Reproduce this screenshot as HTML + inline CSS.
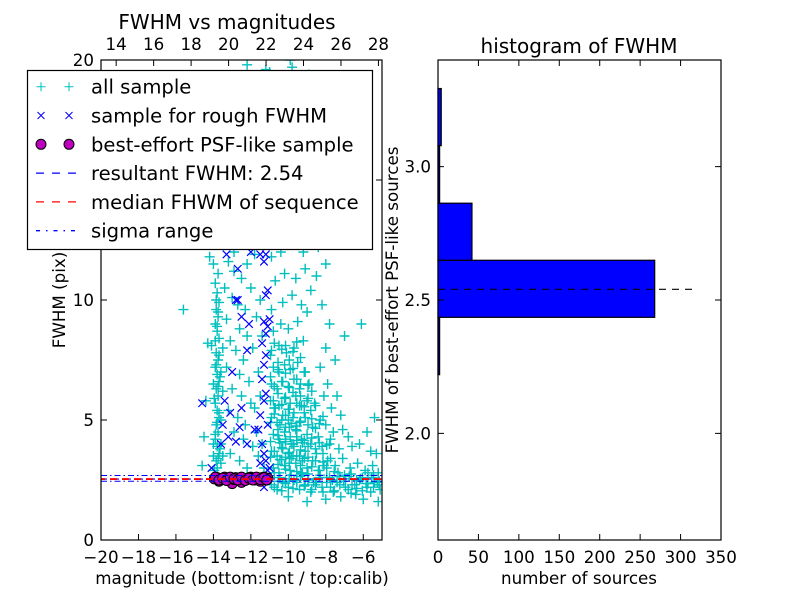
<!DOCTYPE html>
<html><head><meta charset="utf-8"><style>
html,body{margin:0;padding:0;background:#fff;}
svg{display:block;font-family:"DejaVu Sans","Liberation Sans",sans-serif;}
</style></head><body>
<svg id="chart" width="800" height="600" viewBox="0 0 800 600" xmlns="http://www.w3.org/2000/svg"></svg>
<script>
// ---------- data ----------
const magAll = [-13.9,-13.8,-13.85,-13.7,-13.8,-13.9,-13.75,-13.85,-13.7,-13.8,-13.9,-13.75,-13.85,-13.7,-13.8,-13.9,-13.75,-13.85,-14.1,-14.3,-13.7,-13.8,-13.9,-13.75,-13.85,-13.7,-13.8,-13.9,-13.75,-14.0,-14.2,-13.6,-13.6,-13.5,-13.6,-13.5,-13.6,-13.5,-14.0,-14.0,-14.0,
-13.2,-12.9,-12.5,-13.0,-12.7,-12.3,-13.3,-12.6,-12.2,-13.1,-12.8,-12.4,-13.3,-12.6,-12.1,-13.0,-12.5,-12.0,-13.2,-12.7,-12.3,-12.9,-12.4,-11.9,-13.1,-12.6,-12.2,-11.8,-12.0,-11.7,-11.9,-11.6,-11.8,-11.7,-11.6,-13.4,-12.9,-12.2,-11.5,-11.4,-11.5,-11.4,-11.3,-11.4,
-10.9,-10.6,-10.3,-10.0,-9.7,-9.4,-9.1,-8.8,-8.5,-8.2,
-10.8,-10.5,-10.2,-9.9,-9.6,-9.3,-9.0,-8.7,-8.4,-8.1,
-10.9,-10.6,-10.3,-10.0,-9.7,-9.4,-9.1,-8.8,-8.5,-8.2,
-10.8,-10.5,-10.2,-9.9,-9.6,-9.3,-9.0,-8.7,-8.4,
-10.9,-10.6,-10.3,-10.0,-9.7,-9.4,-9.1,-8.8,-8.3,
-10.8,-10.5,-10.2,-9.9,-9.6,-9.3,-9.0,
-10.9,-10.6,-10.3,-10.0,-9.7,-9.4,-8.9,
-10.8,-10.5,-10.2,-9.9,-9.5,-9.1,
-10.9,-10.5,-10.1,-9.7,-9.2,
-10.8,-10.4,-10.0,-9.5,-9.0,
-10.9,-10.3,-9.8,-9.3,-8.8,
-10.7,-10.2,-9.6,-9.1,-8.5,
-10.9,-10.4,-9.8,-9.2,-8.4,-8.0,-8.2,-7.8,-8.0,-7.5,-8.3,-7.9,-7.4,-8.1,-7.7,-7.2,-8.0,-7.6,-7.1,-6.8,-7.8,-7.3,-6.6,-6.2,-5.8,-5.4,-6.1,-7.0,
-7.9,-7.5,-7.1,-6.7,-6.3,-5.9,-5.5,-5.2,-7.8,-7.4,-7.0,-6.6,-6.2,-5.8,-5.4,-5.1,-7.6,-7.2,-6.8,-6.4,-6.0,-5.6,-5.2,-8.0,-9.0,-10.0,-5.3,-5.6,
-11.0,-10.6,-10.2,-9.8,-9.4,-8.9,-8.6,-9.9,-10.8,-9.3,-8.7,-10.4,-9.6,-8.9,-10.1,-9.2,-10.7,-11.2,-12.2,
-15.6,-14.4,-14.5,-14.6,
-10.45,-10.15,-9.85,-9.55,-9.25,-8.95,-8.65,-10.45,-10.15,-9.85,-9.55,-9.25,-8.95,-10.45,-10.15,-9.85,-9.55,-9.25,-10.45,-10.15,-9.85,-9.55,-10.7,-10.0,-9.4,-8.6,-8.3,-7.95,-7.65,-7.35,-7.05,-6.75,-6.45,-6.15,-5.85,-5.55,-5.25];
const fwhmAll = [2.7,3.0,3.3,3.6,3.9,4.2,4.5,4.8,5.1,5.4,5.7,6.0,6.3,6.6,6.9,7.2,7.5,7.8,8.1,8.2,8.4,8.7,9.0,9.3,9.6,9.9,10.3,10.7,11.1,11.5,11.8,3.2,4.0,3.5,5.0,6.2,7.0,8.0,4.0,6.5,3.5,
11.6,11.2,10.9,10.1,9.8,9.6,9.2,8.8,8.5,8.3,7.9,7.5,7.2,6.9,6.6,6.3,6.0,5.7,5.4,5.1,4.8,4.5,4.2,3.9,3.6,3.3,3.0,11.9,10.5,9.3,8.0,7.0,5.5,4.5,3.5,10.5,12.0,11.5,10.0,8.5,6.0,4.0,3.0,12.3,
2.3,2.1,2.4,2.2,2.5,2.1,2.3,2.0,2.4,2.2,
3.0,2.8,3.1,2.9,3.2,2.8,3.0,3.3,2.9,3.1,
3.7,3.5,3.8,3.6,3.9,3.5,3.7,4.0,3.6,3.9,
4.4,4.2,4.5,4.3,4.6,4.2,4.4,4.7,4.3,
5.1,4.9,5.2,5.0,5.3,4.9,5.1,5.4,5.0,
5.8,5.6,5.9,5.7,6.0,5.6,5.8,
6.5,6.3,6.6,6.4,6.7,6.3,6.5,
7.2,7.0,7.3,7.1,7.4,7.0,
7.9,8.1,7.8,8.0,8.3,
8.7,9.0,8.8,9.1,9.5,
9.6,9.9,10.2,9.8,10.4,
10.8,11.1,10.9,11.3,11.0,
11.8,12.0,12.3,12.0,12.2,11.5,9.8,9.0,8.0,7.5,7.2,6.5,6.0,6.0,5.5,5.2,4.8,4.5,4.6,4.3,4.0,3.8,3.9,4.0,4.5,5.1,9.0,8.5,
3.3,3.1,3.4,3.0,3.2,2.9,3.1,2.8,2.6,2.4,2.7,2.3,2.5,2.2,2.4,2.1,2.0,1.8,2.1,1.9,1.7,2.0,1.6,1.7,1.6,1.8,3.6,3.7,
19.5,19.3,19.1,19.7,18.9,19.4,19.0,20.0,17.5,17.8,16.9,16.5,15.2,14.7,14.0,13.4,13.0,19.6,19.8,
9.6,5.8,4.3,3.1,
2.6,2.45,2.7,2.5,2.75,2.55,2.4,3.35,3.45,3.4,3.5,3.3,3.45,4.05,4.1,4.0,4.15,4.05,4.8,4.7,4.85,4.75,5.5,5.45,5.6,5.7,2.7,2.6,2.5,2.8,2.45,2.65,2.3,2.55,2.35,2.6,2.4];
// extra dense-region samples (blob, tail, bright strip)
const magAllDense = [
-10.95,-10.75,-10.55,-10.35,-10.15,-9.95,-9.75,-9.55,-9.35,-9.15,-8.95,-8.75,-8.55,-8.35,-8.15,-7.95,-7.75,
-10.95,-10.75,-10.55,-10.35,-10.15,-9.95,-9.75,-9.55,-9.35,-9.15,-8.95,-8.75,-8.55,-8.35,-8.15,-7.95,-7.75,
-10.95,-10.75,-10.55,-10.35,-10.15,-9.95,-9.75,-9.55,-9.35,-9.15,-8.95,-8.75,-8.55,-8.35,-8.15,-7.95,-7.75,
-10.95,-10.75,-10.55,-10.35,-10.15,-9.95,-9.75,-9.55,-9.35,-9.15,-8.95,-8.75,-8.55,-8.35,-8.15,
-10.95,-10.75,-10.55,-10.35,-10.15,-9.95,-9.75,-9.55,-9.35,-9.15,-8.95,-8.75,-8.55,
-10.95,-10.75,-10.55,-10.35,-10.15,-9.95,-9.75,-9.55,-9.35,-9.15,-8.95,
-10.95,-10.75,-10.55,-10.35,-10.15,-9.95,-9.75,-9.55,-9.35,
-7.55,-7.25,-6.95,-6.65,-6.35,-6.05,-5.75,-5.45,-5.15,
-7.55,-7.25,-6.95,-6.65,-6.35,-6.05,-5.75,-5.45,-5.15,
-13.95,-13.75,-13.65,-13.9,-13.8,-13.7,-13.95,-13.75,-13.65,-13.85,-13.7,-13.9,-13.8,-13.75,-13.85];
const fwhmAllDense = [
2.6,2.2,2.45,2.05,2.35,2.55,2.15,2.4,2.65,2.25,2.5,2.1,2.3,2.6,2.0,2.4,2.2,
3.45,2.8,3.15,3.35,2.95,3.2,3.5,2.85,3.1,3.4,2.75,3.05,3.3,2.9,3.25,3.0,3.4,
4.1,3.7,4.35,3.85,4.2,3.65,4.0,4.3,3.75,4.15,3.9,4.25,3.8,4.05,3.6,3.95,4.2,
4.9,5.25,4.6,5.0,5.2,4.7,5.1,4.55,4.95,5.3,4.8,5.05,4.65,4.85,5.15,
5.8,5.5,6.1,5.65,5.95,5.45,6.15,5.7,6.0,5.55,5.9,6.2,5.6,
6.8,6.4,7.1,6.6,6.95,6.35,7.15,6.7,6.5,7.0,6.45,
7.7,8.2,7.4,7.95,8.1,7.5,7.85,8.25,7.6,
2.85,2.3,2.55,2.75,2.15,2.6,2.35,2.7,2.45,
2.05,2.65,2.2,1.95,2.5,2.05,2.8,2.2,2.3,
2.9,3.4,3.8,4.4,4.9,5.3,5.9,6.4,6.8,7.3,7.7,8.3,8.9,9.5,10.0];
const magRough = [-11.3,-11.1,-11.2,-11.0,-11.3,-11.4,-11.6,-11.1,-11.5,-11.3,-11.2,-11.4,-11.3,-11.2,-11.4,-11.2,-11.1,-11.3,-11.0,-11.2,-11.1,-11.3,-11.5,-11.2,
-13.3,-12.8,-12.7,-12.5,-12.1,-12.2,-13.0,-12.5,-13.2,-12.8,-13.6,-14.1,-14.6,-13.5,-13.1,-12.6,-12.2,-12.7,-13.4,-11.8,-11.5,-12.0];
const fwhmRough = [2.2,2.9,3.3,3.0,3.6,4.0,4.6,4.8,5.2,5.8,6.1,6.7,7.3,7.7,8.2,8.6,8.9,9.1,9.2,10.2,10.4,11.6,11.9,11.9,
11.9,10.0,10.0,9.3,9.0,7.9,7.0,5.5,4.3,4.1,4.0,3.0,5.7,4.8,5.3,4.7,4.0,11.3,5.8,4.6,3.2,12.0];
const magPsf = [-13.95,-13.8,-13.6,-13.4,-13.2,-13.0,-12.8,-12.6,-12.4,-12.2,-12.0,-11.8,-11.6,-11.4,-11.2,-11.1,-13.7,-13.1,-12.5,-11.9,-11.3,-13.3,-12.1,-12.9,-11.5,
-13.9,-13.7,-13.5,-13.3,-13.1,-12.9,-12.7,-12.5,-12.3,-12.1,-11.9,-11.7,-11.5,-11.3,-11.15];
const fwhmPsf = [2.55,2.6,2.5,2.62,2.55,2.35,2.6,2.5,2.58,2.52,2.62,2.5,2.55,2.6,2.5,2.58,2.45,2.6,2.4,2.55,2.62,2.5,2.6,2.52,2.45,
2.62,2.5,2.58,2.48,2.62,2.55,2.5,2.62,2.48,2.58,2.5,2.62,2.52,2.6,2.5];
const resultFwhm = 2.54;
const medianFwhm = 2.54;
const sigmaRange = [2.45, 2.69];
const histEdges = [2.220, 2.435, 2.649, 2.863, 3.079, 3.293];
const histCounts = [2, 268, 42, 2, 4];
const leftXTicks = [-20,-18,-16,-14,-12,-10,-8,-6];
const leftYTicks = [0,5,10,15,20];
const topTicks = [14,16,18,20,22,24,26,28];
const calibOffset = 33.19;
const rightXTicks = [0,50,100,150,200,250,300,350];
const rightYTicks = [2.0,2.5,3.0];

// ---------- geometry ----------
const NS = "http://www.w3.org/2000/svg";
const svg = document.getElementById('chart');
const L = {x0:101, x1:382, y0:60, y1:540, xmin:-20, xmax:-5, ymin:0, ymax:20};
const R = {x0:438, x1:721, y0:60, y1:540, xmin:0, xmax:350, ymin:1.6, ymax:3.4};
const lx = v => L.x0 + (v - L.xmin) / (L.xmax - L.xmin) * (L.x1 - L.x0);
const ly = v => L.y1 - (v - L.ymin) / (L.ymax - L.ymin) * (L.y1 - L.y0);
const rx = v => R.x0 + (v - R.xmin) / (R.xmax - R.xmin) * (R.x1 - R.x0);
const ry = v => R.y1 - (v - R.ymin) / (R.ymax - R.ymin) * (R.y1 - R.y0);
function mk(tag, attrs, parent){ const e=document.createElementNS(NS,tag); for(const k in attrs) e.setAttribute(k, attrs[k]); (parent||svg).appendChild(e); return e; }
function txt(s, x, y, anchor, size, parent, extra){ const t=mk('text', Object.assign({x:x,y:y,'text-anchor':anchor||'middle','font-size':size||16.7,fill:'#000'}, extra||{}), parent); t.textContent=s; return t; }

const defs = mk('defs',{});
const cp = mk('clipPath',{id:'clipL'},defs);
mk('rect',{x:L.x0,y:L.y0,width:L.x1-L.x0,height:L.y1-L.y0},cp);

// ---------- left scatter ----------
const gL = mk('g',{'clip-path':'url(#clipL)'});


const gAll = mk('g',{stroke:'#00bfbf','stroke-width':1.4,fill:'none'},gL);


const allM = magAll.concat(magAllDense), allF = fwhmAll.concat(fwhmAllDense);
for(let i=0;i<allM.length;i++){
  const x=lx(allM[i]), y=ly(allF[i]);
  const p=mk('path',{d:`M${x-5},${y}h10M${x},${y-5}v10`},gAll);
  
  
}
const gRough = mk('g',{stroke:'#0000ff','stroke-width':1.2,fill:'none'},gL);


for(let i=0;i<magRough.length;i++){
  const x=lx(magRough[i]), y=ly(fwhmRough[i]);
  const p=mk('path',{d:`M${x-3.8},${y-3.8}l7.6,7.6M${x-3.8},${y+3.8}l7.6,-7.6`},gRough);
  
  
}
const gPsf = mk('g',{stroke:'#000','stroke-width':1,fill:'#bf00bf'},gL);


for(let i=0;i<magPsf.length;i++){
  const c=mk('circle',{cx:lx(magPsf[i]),cy:ly(fwhmPsf[i]),r:5},gPsf);
  
  
}
let ln=mk('line',{x1:L.x0,x2:L.x1,y1:ly(resultFwhm),y2:ly(resultFwhm),stroke:'#0000ff','stroke-width':1.2,'stroke-dasharray':'6,6'},gL);
 
ln=mk('line',{x1:L.x0,x2:L.x1,y1:ly(medianFwhm),y2:ly(medianFwhm),stroke:'#ff0000','stroke-width':1.8,'stroke-dasharray':'7,5','stroke-dashoffset':3},gL);
 
sigmaRange.forEach(v=>{
  const s=mk('line',{x1:L.x0,x2:L.x1,y1:ly(v),y2:ly(v),stroke:'#0000ff','stroke-width':1,'stroke-dasharray':'6,3,1.5,3'},gL);
  
  
});

// left axes frame & ticks
let fr=mk('rect',{x:L.x0,y:L.y0,width:L.x1-L.x0,height:L.y1-L.y0,fill:'none',stroke:'#000','stroke-width':1.2});
 
leftXTicks.forEach(v=>{
  const x=lx(v);
  mk('path',{d:`M${x},${L.y1}v-6`,stroke:'#000'});
  const t=txt(v<0?'\u2212'+Math.abs(v):String(v), x, 563);
   
});
leftYTicks.forEach(v=>{
  const y=ly(v);
  mk('path',{d:`M${L.x0},${y}h6M${L.x1},${y}h-6`,stroke:'#000'});
  const t=txt(String(v), 94, y+6, 'end');
   
});
topTicks.forEach(v=>{
  const x=lx(v-calibOffset);
  mk('path',{d:`M${x},${L.y0}v6`,stroke:'#000'});
  const t=txt(String(v), x, 50);
   
});
let t=txt('FWHM vs magnitudes', 227, 29, 'middle', 20);
 
t=txt('magnitude (bottom:isnt / top:calib)', 242, 584);
 
t=txt('FWHM (pix)', 0, 0, 'middle', 16.7, null, {transform:'translate(65,300) rotate(-90)'});
 

// legend
const lg = mk('g',{});
 
mk('rect',{x:27.5,y:70.5,width:345,height:179,fill:'#fff',stroke:'#000','stroke-width':1.2},lg);
const legLabels=['all sample','sample for rough FWHM','best-effort PSF-like sample','resultant FWHM: 2.54','median FHWM of sequence','sigma range'];
legLabels.forEach((s,i)=>{
  const y=86.7+i*28.8;
  const e=mk('g',{},lg);
   
  if(i===0){ [41,69].forEach(x=>mk('path',{d:`M${x-4.5},${y}h9M${x},${y-4.5}v9`,stroke:'#00bfbf',fill:'none'},e)); }
  if(i===1){ [41,69].forEach(x=>mk('path',{d:`M${x-3.5},${y-3.5}l7,7M${x-3.5},${y+3.5}l7,-7`,stroke:'#0000ff',fill:'none'},e)); }
  if(i===2){ [41,69].forEach(x=>mk('circle',{cx:x,cy:y,r:5,fill:'#bf00bf',stroke:'#000'},e)); }
  if(i===3) mk('line',{x1:36,x2:76,y1:y,y2:y,stroke:'#0000ff','stroke-dasharray':'8,8','stroke-width':1.3},e);
  if(i===4) mk('line',{x1:36,x2:76,y1:y,y2:y,stroke:'#ff0000','stroke-dasharray':'8,8','stroke-width':1.3},e);
  if(i===5) mk('line',{x1:36,x2:76,y1:y,y2:y,stroke:'#0000ff','stroke-dasharray':'4,6,1.5,6','stroke-width':1.3},e);
  txt(s, 91, y+7, 'start', 19.6, e);
});

// ---------- right histogram ----------
const gR = mk('g',{});
 
for(let i=0;i<histCounts.length;i++){
  const y0=ry(histEdges[i+1]), y1=ry(histEdges[i]);
  const b=mk('rect',{x:rx(0),y:y0,width:Math.max(rx(histCounts[i])-rx(0),0.5),height:y1-y0,fill:'#0000ff',stroke:'#000','stroke-width':1.2},gR);
  
  
}
ln=mk('line',{x1:rx(0),x2:rx(320),y1:ry(resultFwhm),y2:ry(resultFwhm),stroke:'#000','stroke-width':1.2,'stroke-dasharray':'7,6'},gR);
 
fr=mk('rect',{x:R.x0,y:R.y0,width:R.x1-R.x0,height:R.y1-R.y0,fill:'none',stroke:'#000','stroke-width':1.2});
 
rightXTicks.forEach(v=>{
  const x=rx(v);
  mk('path',{d:`M${x},${R.y1}v-6M${x},${R.y0}v6`,stroke:'#000'});
  const t=txt(String(v), x, 563);
   
});
rightYTicks.forEach(v=>{
  const y=ry(v);
  mk('path',{d:`M${R.x0},${y}h6M${R.x1},${y}h-6`,stroke:'#000'});
  const t=txt(v.toFixed(1), 431, y+6, 'end');
   
});
t=txt('histogram of FWHM', 579, 53, 'middle', 20);
 
t=txt('number of sources', 579, 584);
 
t=txt('FWHM of best-effort PSF-like sources', 0, 0, 'middle', 16.7, null, {transform:'translate(398,300) rotate(-90)'});
 
</script>
</body></html>
